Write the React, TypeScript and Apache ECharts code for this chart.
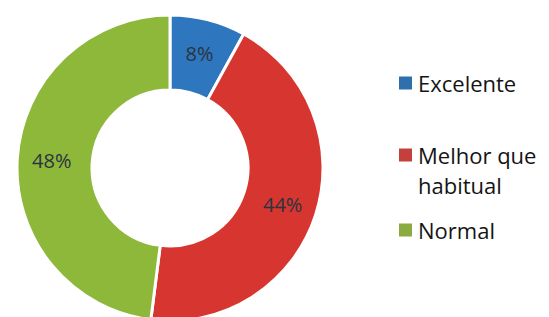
import React, { useEffect, useRef } from "react";
import * as echarts from "echarts";

const categories = ["Excelente", "Melhor que habitual", "Normal"];
const values = [8, 44, 48];
const sliceColors = ["#2e76be", "#d6362f", "#8db83a"];
const legendColors = ["#2e6fae", "#c3403c", "#8aab3f"];

export default function App() {
  const ref = useRef<HTMLDivElement>(null);
  useEffect(() => {
    if (!ref.current) return;
    const chart = echarts.init(ref.current, undefined, { renderer: "svg" });
    const font = "'Open Sans', 'Liberation Sans', sans-serif";
    const legendTops = [63, 105, 210];
    chart.setOption({
      animation: false,
      legend: categories.map((name, i) => ({
        data: [{ name, itemStyle: { color: legendColors[i] } }],
        left: 392,
        top: legendTops[i],
        orient: "vertical",
        icon: "rect",
        itemWidth: 15,
        itemHeight: 15,
        selectedMode: false,
        formatter: (n: string) => (n === "Melhor que habitual" ? "\nMelhor que\nhabitual" : n),
        textStyle: {
          fontFamily: font,
          fontSize: 22,
          color: "#141414",
          lineHeight: 30,
        },
      })),
      series: [
        {
          type: "pie",
          center: [170, 168],
          radius: [78, 153],
          startAngle: 90,
          clockwise: true,
          label: {
            show: true,
            position: "inside",
            formatter: "{c}%",
            fontFamily: font,
            fontSize: 20,
            color: "#2a3440",
          },
          labelLine: { show: false },
          itemStyle: { borderColor: "#ffffff", borderWidth: 3 },
          emphasis: { disabled: true },
          data: categories.map((name, i) => ({
            name,
            value: values[i],
            itemStyle: { color: sliceColors[i] },
          })),
        },
      ],
    });
    return () => chart.dispose();
  }, []);
  return (
    <div
      ref={ref}
      style={{ position: "fixed", left: 0, top: 0, width: 549, height: 317, background: "#fff" }}
    />
  );
}
